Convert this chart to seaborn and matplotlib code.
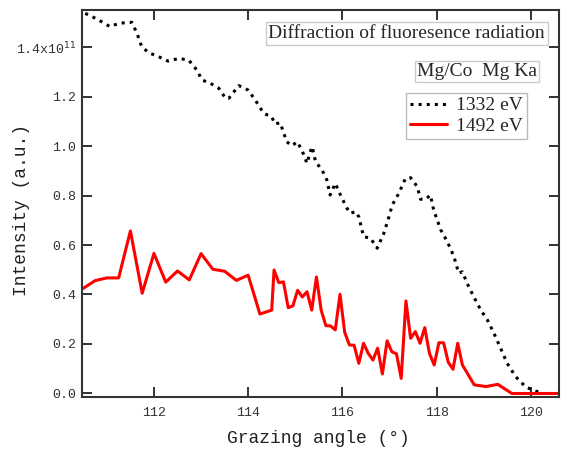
import numpy as np
import pandas as pd
import matplotlib
matplotlib.use("Agg")
import matplotlib.pyplot as plt
import seaborn as sns

sns.set_style("ticks")

# intensity values are in units of 1e11
angle_1332 = [110.54, 110.79, 111.07, 111.25, 111.53, 111.64, 111.74, 111.89, 112.1, 112.3,
              112.53, 112.74, 112.91, 113.02, 113.2, 113.38, 113.52, 113.59, 113.8, 114.0,
              114.15, 114.33, 114.5, 114.57, 114.68, 114.82, 114.93, 115.04, 115.14, 115.25,
              115.32, 115.36, 115.43, 115.57, 115.67, 115.74, 115.85, 115.96, 116.1, 116.17,
              116.28, 116.35, 116.45, 116.6, 116.74, 116.88, 116.99, 117.06, 117.2, 117.34,
              117.45, 117.59, 117.66, 117.77, 117.87, 117.94, 118.09, 118.23, 118.37, 118.47,
              118.55, 118.65, 118.79, 118.94, 119.08, 119.22, 119.36, 119.5, 119.68, 119.89,
              120.04, 120.21]
inten_1332 = [1.536, 1.513, 1.482, 1.496, 1.500, 1.455, 1.401, 1.377, 1.361, 1.343,
              1.354, 1.347, 1.307, 1.267, 1.253, 1.233, 1.193, 1.193, 1.244, 1.226,
              1.186, 1.132, 1.118, 1.089, 1.094, 1.017, 1.001, 1.017, 0.984, 0.930,
              0.977, 0.997, 0.937, 0.903, 0.863, 0.802, 0.849, 0.802, 0.748, 0.728,
              0.735, 0.714, 0.634, 0.627, 0.587, 0.647, 0.714, 0.762, 0.809, 0.869,
              0.872, 0.836, 0.785, 0.785, 0.802, 0.741, 0.661, 0.613, 0.553, 0.486,
              0.492, 0.445, 0.391, 0.337, 0.297, 0.243, 0.183, 0.122, 0.068, 0.027,
              0.014, 0.003]

angle_1492 = [110.5, 110.75, 111.0, 111.25, 111.5, 111.75, 112.0, 112.25, 112.5, 112.75,
              113.0, 113.25, 113.5, 113.75, 114.0, 114.25, 114.5,
              114.55, 114.65, 114.75, 114.85, 114.95, 115.05, 115.15, 115.25, 115.35, 115.45,
              115.55, 115.65, 115.75, 115.85, 115.95, 116.05, 116.15, 116.25, 116.35, 116.45,
              116.55, 116.65, 116.75, 116.85, 116.95, 117.05, 117.15, 117.25, 117.35, 117.45,
              117.55, 117.65, 117.75, 117.85, 117.95, 118.05, 118.15, 118.25, 118.35, 118.45,
              118.55, 118.8, 119.05, 119.3, 119.6, 120.6]
inten_1492 = [0.425, 0.456, 0.467, 0.467, 0.657, 0.405, 0.566, 0.450, 0.495, 0.459,
              0.565, 0.502, 0.494, 0.457, 0.478, 0.321, 0.337,
              0.499, 0.448, 0.451, 0.347, 0.354, 0.417, 0.390, 0.411, 0.337, 0.471,
              0.337, 0.274, 0.273, 0.257, 0.401, 0.247, 0.196, 0.195, 0.122, 0.203,
              0.162, 0.135, 0.183, 0.079, 0.213, 0.169, 0.160, 0.061, 0.374, 0.223,
              0.250, 0.203, 0.266, 0.162, 0.115, 0.205, 0.205, 0.126, 0.098, 0.203,
              0.115, 0.035, 0.028, 0.037, 0.0, 0.0]

x_ticks = [112, 114, 116, 118, 120]
y_ticks = [0.0, 0.2, 0.4, 0.6, 0.8, 1.0, 1.2, 1.4]
y_tick_labels = ["0.0", "0.2", "0.4", "0.6", "0.8", "1.0", "1.2", "1.4x10$^{11}$"]

df1 = pd.DataFrame({"angle": angle_1332, "intensity": inten_1332})
df2 = pd.DataFrame({"angle": angle_1492, "intensity": inten_1492})

fig, ax = plt.subplots(figsize=(5.61, 4.54), dpi=100)
fig.subplots_adjust(left=0.146, right=0.9964, bottom=0.1256, top=0.979)

sns.lineplot(data=df1, x="angle", y="intensity", ax=ax, color="black", linestyle=":",
             linewidth=2.2, estimator=None, sort=False, label="1332 eV")
sns.lineplot(data=df2, x="angle", y="intensity", ax=ax, color="red", linestyle="-",
             linewidth=2.2, estimator=None, sort=False, label="1492 eV")

ax.set_xlim(110.47, 120.6)
ax.set_ylim(-0.0141, 1.5515)

mono = "Liberation Mono"
serif = "Liberation Serif"

ax.set_xticks(x_ticks)
ax.set_xticklabels([str(t) for t in x_ticks], family=mono, fontsize=9.5, color="#333333")
ax.set_yticks(y_ticks)
ax.set_yticklabels(y_tick_labels, family=mono, fontsize=9.5, color="#333333")
ax.tick_params(direction="in", length=7, width=1.3, color="#222222",
               top=True, right=True, labeltop=False, labelright=False)
ax.tick_params(axis="x", pad=7)
ax.tick_params(axis="y", pad=4)
for s in ax.spines.values():
    s.set_linewidth(1.5)
    s.set_color("#333333")

ax.set_xlabel("Grazing angle (°)", family=mono, fontsize=13, color="#222222")
ax.set_ylabel("Intensity (a.u.)", family=mono, fontsize=13, color="#222222")
ax.xaxis.set_label_coords(0.495, -0.085)
ax.yaxis.set_label_coords(-0.108, 0.483)

ax.text(0.681, 0.938, "Diffraction of fluoresence radiation", transform=ax.transAxes,
        ha="center", va="center", family=serif, fontsize=14,
        bbox=dict(boxstyle="square,pad=0.15", fc="white", ec="#cccccc", lw=1))
ax.text(0.828, 0.839, "Mg/Co  Mg Ka", transform=ax.transAxes,
        ha="center", va="center", family=serif, fontsize=14,
        bbox=dict(boxstyle="square,pad=0.1", fc="white", ec="#cccccc", lw=1))

leg = ax.legend(loc="upper right", bbox_to_anchor=(0.933, 0.785), prop={"family": serif, "size": 14},
                frameon=True, fancybox=False, framealpha=1, edgecolor="#bbbbbb",
                handlelength=1.9, handletextpad=0.5, labelspacing=0.15, borderpad=0.2,
                borderaxespad=0)
leg.get_frame().set_linewidth(1)

fig.savefig("out.png", dpi=100)
